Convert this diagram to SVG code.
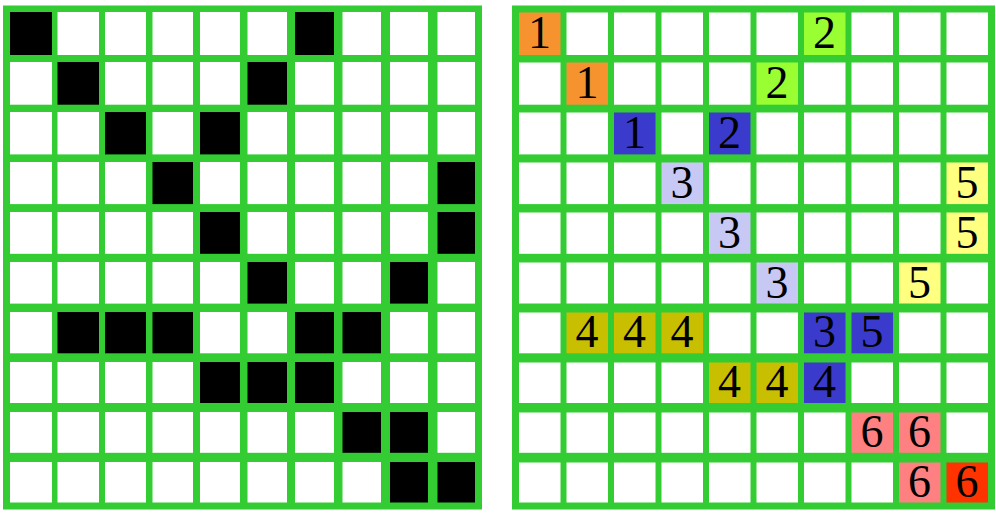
<svg xmlns="http://www.w3.org/2000/svg" width="996" height="516" viewBox="0 0 996 516">
<style>
.g{fill:#33cc33}
.w{fill:#ffffff}
.k{fill:#000000}
.o{fill:#f7932f}
.lg{fill:#99ff33}
.b{fill:#3a3acc}
.lv{fill:#c8c8f5}
.y{fill:#ffff80}
.ol{fill:#c8bf00}
.p{fill:#ff8080}
.r{fill:#ff3300}
text{font-family:"Liberation Serif","Times New Roman",serif;font-size:46px;fill:#000;text-anchor:middle}
</style>
<rect width="996" height="516" fill="#ffffff"/>
<g id="left-grid">
<rect class="g" x="3" y="5.5" width="479" height="504"/>
<g id="left-cells">
<!-- generated per row -->
<rect class="k" x="10" y="12" width="42" height="43"/><rect class="w" x="57.5" y="12" width="41.5" height="43"/><rect class="w" x="105" y="12" width="41" height="43"/><rect class="w" x="152.5" y="12" width="40.5" height="43"/><rect class="w" x="200" y="12" width="40" height="43"/><rect class="w" x="247.5" y="12" width="39.5" height="43"/><rect class="k" x="295" y="12" width="39" height="43"/><rect class="w" x="342.5" y="12" width="38.5" height="43"/><rect class="w" x="390" y="12" width="38" height="43"/><rect class="w" x="437.5" y="12" width="37.5" height="43"/>
<rect class="w" x="10" y="62" width="42" height="42.7"/><rect class="k" x="57.5" y="62" width="41.5" height="42.7"/><rect class="w" x="105" y="62" width="41" height="42.7"/><rect class="w" x="152.5" y="62" width="40.5" height="42.7"/><rect class="w" x="200" y="62" width="40" height="42.7"/><rect class="k" x="247.5" y="62" width="39.5" height="42.7"/><rect class="w" x="295" y="62" width="39" height="42.7"/><rect class="w" x="342.5" y="62" width="38.5" height="42.7"/><rect class="w" x="390" y="62" width="38" height="42.7"/><rect class="w" x="437.5" y="62" width="37.5" height="42.7"/>
<rect class="w" x="10" y="112" width="42" height="42.4"/><rect class="w" x="57.5" y="112" width="41.5" height="42.4"/><rect class="k" x="105" y="112" width="41" height="42.4"/><rect class="w" x="152.5" y="112" width="40.5" height="42.4"/><rect class="k" x="200" y="112" width="40" height="42.4"/><rect class="w" x="247.5" y="112" width="39.5" height="42.4"/><rect class="w" x="295" y="112" width="39" height="42.4"/><rect class="w" x="342.5" y="112" width="38.5" height="42.4"/><rect class="w" x="390" y="112" width="38" height="42.4"/><rect class="w" x="437.5" y="112" width="37.5" height="42.4"/>
<rect class="w" x="10" y="162" width="42" height="42.1"/><rect class="w" x="57.5" y="162" width="41.5" height="42.1"/><rect class="w" x="105" y="162" width="41" height="42.1"/><rect class="k" x="152.5" y="162" width="40.5" height="42.1"/><rect class="w" x="200" y="162" width="40" height="42.1"/><rect class="w" x="247.5" y="162" width="39.5" height="42.1"/><rect class="w" x="295" y="162" width="39" height="42.1"/><rect class="w" x="342.5" y="162" width="38.5" height="42.1"/><rect class="w" x="390" y="162" width="38" height="42.1"/><rect class="k" x="437.5" y="162" width="37.5" height="42.1"/>
<rect class="w" x="10" y="212" width="42" height="41.8"/><rect class="w" x="57.5" y="212" width="41.5" height="41.8"/><rect class="w" x="105" y="212" width="41" height="41.8"/><rect class="w" x="152.5" y="212" width="40.5" height="41.8"/><rect class="k" x="200" y="212" width="40" height="41.8"/><rect class="w" x="247.5" y="212" width="39.5" height="41.8"/><rect class="w" x="295" y="212" width="39" height="41.8"/><rect class="w" x="342.5" y="212" width="38.5" height="41.8"/><rect class="w" x="390" y="212" width="38" height="41.8"/><rect class="k" x="437.5" y="212" width="37.5" height="41.8"/>
<rect class="w" x="10" y="262" width="42" height="41.6"/><rect class="w" x="57.5" y="262" width="41.5" height="41.6"/><rect class="w" x="105" y="262" width="41" height="41.6"/><rect class="w" x="152.5" y="262" width="40.5" height="41.6"/><rect class="w" x="200" y="262" width="40" height="41.6"/><rect class="k" x="247.5" y="262" width="39.5" height="41.6"/><rect class="w" x="295" y="262" width="39" height="41.6"/><rect class="w" x="342.5" y="262" width="38.5" height="41.6"/><rect class="k" x="390" y="262" width="38" height="41.6"/><rect class="w" x="437.5" y="262" width="37.5" height="41.6"/>
<rect class="w" x="10" y="312" width="42" height="41.3"/><rect class="k" x="57.5" y="312" width="41.5" height="41.3"/><rect class="k" x="105" y="312" width="41" height="41.3"/><rect class="k" x="152.5" y="312" width="40.5" height="41.3"/><rect class="w" x="200" y="312" width="40" height="41.3"/><rect class="w" x="247.5" y="312" width="39.5" height="41.3"/><rect class="k" x="295" y="312" width="39" height="41.3"/><rect class="k" x="342.5" y="312" width="38.5" height="41.3"/><rect class="w" x="390" y="312" width="38" height="41.3"/><rect class="w" x="437.5" y="312" width="37.5" height="41.3"/>
<rect class="w" x="10" y="362" width="42" height="41"/><rect class="w" x="57.5" y="362" width="41.5" height="41"/><rect class="w" x="105" y="362" width="41" height="41"/><rect class="w" x="152.5" y="362" width="40.5" height="41"/><rect class="k" x="200" y="362" width="40" height="41"/><rect class="k" x="247.5" y="362" width="39.5" height="41"/><rect class="k" x="295" y="362" width="39" height="41"/><rect class="w" x="342.5" y="362" width="38.5" height="41"/><rect class="w" x="390" y="362" width="38" height="41"/><rect class="w" x="437.5" y="362" width="37.5" height="41"/>
<rect class="w" x="10" y="412" width="42" height="40.8"/><rect class="w" x="57.5" y="412" width="41.5" height="40.8"/><rect class="w" x="105" y="412" width="41" height="40.8"/><rect class="w" x="152.5" y="412" width="40.5" height="40.8"/><rect class="w" x="200" y="412" width="40" height="40.8"/><rect class="w" x="247.5" y="412" width="39.5" height="40.8"/><rect class="w" x="295" y="412" width="39" height="40.8"/><rect class="k" x="342.5" y="412" width="38.5" height="40.8"/><rect class="k" x="390" y="412" width="38" height="40.8"/><rect class="w" x="437.5" y="412" width="37.5" height="40.8"/>
<rect class="w" x="10" y="462" width="42" height="40.5"/><rect class="w" x="57.5" y="462" width="41.5" height="40.5"/><rect class="w" x="105" y="462" width="41" height="40.5"/><rect class="w" x="152.5" y="462" width="40.5" height="40.5"/><rect class="w" x="200" y="462" width="40" height="40.5"/><rect class="w" x="247.5" y="462" width="39.5" height="40.5"/><rect class="w" x="295" y="462" width="39" height="40.5"/><rect class="w" x="342.5" y="462" width="38.5" height="40.5"/><rect class="k" x="390" y="462" width="38" height="40.5"/><rect class="k" x="437.5" y="462" width="37.5" height="40.5"/>
</g>
</g>
<g id="right-grid">
<rect class="g" x="512" y="5.5" width="483" height="504"/>
<g id="right-cells">
<rect class="o" x="519" y="12.5" width="41.5" height="42.5"/><rect class="w" x="566.5" y="12.5" width="41.5" height="42.5"/><rect class="w" x="614" y="12.5" width="41.5" height="42.5"/><rect class="w" x="661.5" y="12.5" width="41.5" height="42.5"/><rect class="w" x="709" y="12.5" width="41.5" height="42.5"/><rect class="w" x="756.5" y="12.5" width="41.5" height="42.5"/><rect class="lg" x="804" y="12.5" width="41.5" height="42.5"/><rect class="w" x="851.5" y="12.5" width="41.5" height="42.5"/><rect class="w" x="899" y="12.5" width="41.5" height="42.5"/><rect class="w" x="946.5" y="12.5" width="41.5" height="42.5"/>
<rect class="w" x="519" y="62.5" width="41.5" height="42.2"/><rect class="o" x="566.5" y="62.5" width="41.5" height="42.2"/><rect class="w" x="614" y="62.5" width="41.5" height="42.2"/><rect class="w" x="661.5" y="62.5" width="41.5" height="42.2"/><rect class="w" x="709" y="62.5" width="41.5" height="42.2"/><rect class="lg" x="756.5" y="62.5" width="41.5" height="42.2"/><rect class="w" x="804" y="62.5" width="41.5" height="42.2"/><rect class="w" x="851.5" y="62.5" width="41.5" height="42.2"/><rect class="w" x="899" y="62.5" width="41.5" height="42.2"/><rect class="w" x="946.5" y="62.5" width="41.5" height="42.2"/>
<rect class="w" x="519" y="112.5" width="41.5" height="41.9"/><rect class="w" x="566.5" y="112.5" width="41.5" height="41.9"/><rect class="b" x="614" y="112.5" width="41.5" height="41.9"/><rect class="w" x="661.5" y="112.5" width="41.5" height="41.9"/><rect class="b" x="709" y="112.5" width="41.5" height="41.9"/><rect class="w" x="756.5" y="112.5" width="41.5" height="41.9"/><rect class="w" x="804" y="112.5" width="41.5" height="41.9"/><rect class="w" x="851.5" y="112.5" width="41.5" height="41.9"/><rect class="w" x="899" y="112.5" width="41.5" height="41.9"/><rect class="w" x="946.5" y="112.5" width="41.5" height="41.9"/>
<rect class="w" x="519" y="162.5" width="41.5" height="41.6"/><rect class="w" x="566.5" y="162.5" width="41.5" height="41.6"/><rect class="w" x="614" y="162.5" width="41.5" height="41.6"/><rect class="lv" x="661.5" y="162.5" width="41.5" height="41.6"/><rect class="w" x="709" y="162.5" width="41.5" height="41.6"/><rect class="w" x="756.5" y="162.5" width="41.5" height="41.6"/><rect class="w" x="804" y="162.5" width="41.5" height="41.6"/><rect class="w" x="851.5" y="162.5" width="41.5" height="41.6"/><rect class="w" x="899" y="162.5" width="41.5" height="41.6"/><rect class="y" x="946.5" y="162.5" width="41.5" height="41.6"/>
<rect class="w" x="519" y="212.5" width="41.5" height="41.3"/><rect class="w" x="566.5" y="212.5" width="41.5" height="41.3"/><rect class="w" x="614" y="212.5" width="41.5" height="41.3"/><rect class="w" x="661.5" y="212.5" width="41.5" height="41.3"/><rect class="lv" x="709" y="212.5" width="41.5" height="41.3"/><rect class="w" x="756.5" y="212.5" width="41.5" height="41.3"/><rect class="w" x="804" y="212.5" width="41.5" height="41.3"/><rect class="w" x="851.5" y="212.5" width="41.5" height="41.3"/><rect class="w" x="899" y="212.5" width="41.5" height="41.3"/><rect class="y" x="946.5" y="212.5" width="41.5" height="41.3"/>
<rect class="w" x="519" y="262.5" width="41.5" height="41"/><rect class="w" x="566.5" y="262.5" width="41.5" height="41"/><rect class="w" x="614" y="262.5" width="41.5" height="41"/><rect class="w" x="661.5" y="262.5" width="41.5" height="41"/><rect class="w" x="709" y="262.5" width="41.5" height="41"/><rect class="lv" x="756.5" y="262.5" width="41.5" height="41"/><rect class="w" x="804" y="262.5" width="41.5" height="41"/><rect class="w" x="851.5" y="262.5" width="41.5" height="41"/><rect class="y" x="899" y="262.5" width="41.5" height="41"/><rect class="w" x="946.5" y="262.5" width="41.5" height="41"/>
<rect class="w" x="519" y="312.5" width="41.5" height="40.8"/><rect class="ol" x="566.5" y="312.5" width="41.5" height="40.8"/><rect class="ol" x="614" y="312.5" width="41.5" height="40.8"/><rect class="ol" x="661.5" y="312.5" width="41.5" height="40.8"/><rect class="w" x="709" y="312.5" width="41.5" height="40.8"/><rect class="w" x="756.5" y="312.5" width="41.5" height="40.8"/><rect class="b" x="804" y="312.5" width="41.5" height="40.8"/><rect class="b" x="851.5" y="312.5" width="41.5" height="40.8"/><rect class="w" x="899" y="312.5" width="41.5" height="40.8"/><rect class="w" x="946.5" y="312.5" width="41.5" height="40.8"/>
<rect class="w" x="519" y="362.5" width="41.5" height="40.5"/><rect class="w" x="566.5" y="362.5" width="41.5" height="40.5"/><rect class="w" x="614" y="362.5" width="41.5" height="40.5"/><rect class="w" x="661.5" y="362.5" width="41.5" height="40.5"/><rect class="ol" x="709" y="362.5" width="41.5" height="40.5"/><rect class="ol" x="756.5" y="362.5" width="41.5" height="40.5"/><rect class="b" x="804" y="362.5" width="41.5" height="40.5"/><rect class="w" x="851.5" y="362.5" width="41.5" height="40.5"/><rect class="w" x="899" y="362.5" width="41.5" height="40.5"/><rect class="w" x="946.5" y="362.5" width="41.5" height="40.5"/>
<rect class="w" x="519" y="412.5" width="41.5" height="40.3"/><rect class="w" x="566.5" y="412.5" width="41.5" height="40.3"/><rect class="w" x="614" y="412.5" width="41.5" height="40.3"/><rect class="w" x="661.5" y="412.5" width="41.5" height="40.3"/><rect class="w" x="709" y="412.5" width="41.5" height="40.3"/><rect class="w" x="756.5" y="412.5" width="41.5" height="40.3"/><rect class="w" x="804" y="412.5" width="41.5" height="40.3"/><rect class="p" x="851.5" y="412.5" width="41.5" height="40.3"/><rect class="p" x="899" y="412.5" width="41.5" height="40.3"/><rect class="w" x="946.5" y="412.5" width="41.5" height="40.3"/>
<rect class="w" x="519" y="462.5" width="41.5" height="40"/><rect class="w" x="566.5" y="462.5" width="41.5" height="40"/><rect class="w" x="614" y="462.5" width="41.5" height="40"/><rect class="w" x="661.5" y="462.5" width="41.5" height="40"/><rect class="w" x="709" y="462.5" width="41.5" height="40"/><rect class="w" x="756.5" y="462.5" width="41.5" height="40"/><rect class="w" x="804" y="462.5" width="41.5" height="40"/><rect class="w" x="851.5" y="462.5" width="41.5" height="40"/><rect class="p" x="899" y="462.5" width="41.5" height="40"/><rect class="r" x="946.5" y="462.5" width="41.5" height="40"/>
</g>
<g id="labels">
<text x="539.5" y="48">1</text>
<text x="824.5" y="48">2</text>
<text x="587" y="98">1</text>
<text x="777" y="98">2</text>
<text x="634.5" y="148">1</text>
<text x="729.5" y="148">2</text>
<text x="682" y="198">3</text>
<text x="967" y="198">5</text>
<text x="729.5" y="248">3</text>
<text x="967" y="248">5</text>
<text x="777" y="298">3</text>
<text x="919.5" y="298">5</text>
<text x="587" y="347">4</text>
<text x="634.5" y="347">4</text>
<text x="682" y="347">4</text>
<text x="824.5" y="347">3</text>
<text x="872" y="347">5</text>
<text x="729.5" y="397">4</text>
<text x="777" y="397">4</text>
<text x="824.5" y="397">4</text>
<text x="872" y="447">6</text>
<text x="919.5" y="447">6</text>
<text x="919.5" y="497">6</text>
<text x="967" y="497">6</text>
</g>
</g>
</svg>
